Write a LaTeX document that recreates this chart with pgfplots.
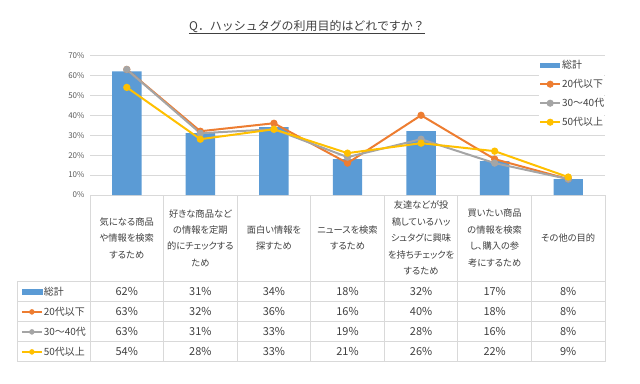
\documentclass[border=0pt]{standalone}
\usepackage{fontspec}
\setmainfont{Noto Sans CJK JP}
\newfontfamily\pfont{Noto Sans CJK JP}[RawFeature=+palt]
\usepackage{pgfplots}
\usepackage{pgfplotstable}
\pgfplotsset{compat=1.18}
\definecolor{barblue}{HTML}{5B9BD5}
\definecolor{lorange}{HTML}{ED7D31}
\definecolor{lgray}{HTML}{A5A5A5}
\definecolor{lyellow}{HTML}{FFC000}
\definecolor{gridgray}{HTML}{D9D9D9}
\definecolor{textgray}{HTML}{404040}
\definecolor{tickgray}{HTML}{595959}

\pgfplotstableread{
x total u20 a3040 o50
0 62 63 63 54
1 31 32 31 28
2 34 36 33 33
3 18 16 19 21
4 32 40 28 26
5 17 18 16 22
6 8 8 8 9
}\datatable

\pgfplotsset{
  barlegend/.style={legend image code/.code={\fill[barblue] (0bp,-2.5bp) rectangle (20bp,2.5bp);}},
  linelegend/.style={legend image code/.code={%
     \draw[line width=2bp,#1] (0bp,0bp) -- (20bp,0bp);
     \fill[#1] (10bp,0bp) circle (2.5bp);}},
  agline/.style={line width=2bp, color=#1, mark=*, mark size=2.6bp,
     mark options={solid, fill=#1, draw=#1}, linelegend=#1},
}

\begin{document}
\begin{tikzpicture}[x=1bp,y=1bp]

% title
\node[inner sep=0pt, font=\fontsize{12}{14}\selectfont, text=textgray] (t) at (307,356.3) {Q．ハッシュタグの利用目的はどれですか？};
\draw[textgray, line width=0.8bp] ([yshift=-2.8bp]t.base west) -- ([yshift=-2.8bp]t.base east);

% table grid
\begin{scope}[gridgray, line width=0.75bp]
\foreach \yy in {101.3, 81.3, 61.3, 41.3, 21.3} \draw (17.3,\yy) -- (605,\yy);
\draw (17.3,101.3) -- (17.3,21.3);
\foreach \i in {0,...,7} \draw ({90+73.5714*\i},188) -- ({90+73.5714*\i},21.3);
\end{scope}

% table values
\foreach \col/\yy in {total/91.3, u20/71.3, a3040/51.3, o50/31.3} {
  \foreach \i in {0,...,6} {
    \pgfplotstablegetelem{\i}{\col}\of\datatable
    \node[font=\fontsize{11}{12}\selectfont, text=textgray] at ({90+73.5714*(\i+0.5)}, \yy) {\pgfplotsretval\%};
  }
}

\begin{axis}[
  at={(90bp,188bp)}, anchor=south west, scale only axis,
  width=515bp, height=139.5bp,
  xmin=-0.5, xmax=6.5, ymin=0, ymax=70,
  clip=false,
  ytick={0,10,...,70},
  yticklabel={\pgfmathprintnumber{\tick}\%},
  /pgf/number format/assume math mode=true,
  ymajorgrids, grid style={draw=gridgray, line width=0.75bp},
  axis line style={draw=none},
  major tick length=0pt,
  xtick={0,...,6},
  xticklabels={
    {気になる商品\\や情報を検索\\するため},
    {好きな商品など\\の情報を定期\\的にチェックする\\ため},
    {面白い情報を\\探すため},
    {ニュースを検索\\するため},
    {友達などが投\\稿しているハッ\\シュタグに興味\\を持ちチェックを\\するため},
    {買いたい商品\\の情報を検索\\し、購入の参\\考にするため},
    {その他の目的}},
  xticklabel style={align=center, anchor=center, yshift=-43bp, text=textgray,
     font=\pfont\fontsize{9.3}{16.5}\selectfont},
  yticklabel style={font=\fontsize{8}{9}\selectfont, text=tickgray, xshift=-2bp},
  legend style={draw=none, fill=white, at={(0.8718,1.0)}, anchor=north west,
     inner sep=0pt, column sep=1bp, font=\fontsize{10}{12}\selectfont, text=textgray,
     nodes={inner sep=0pt, minimum height=19bp}},
  legend cell align=left,
]
\addplot[ybar, bar width=0.4, bar shift=0pt, fill=barblue, draw=none, barlegend] table[x=x, y=total] {\datatable};
\addlegendentry{総計}
\addplot[agline=lorange] table[x=x, y=u20] {\datatable};
\addlegendentry{20代以下}
\addplot[agline=lgray] table[x=x, y=a3040] {\datatable};
\addlegendentry{30～40代}
\addplot[agline=lyellow] table[x=x, y=o50] {\datatable};
\addlegendentry{50代以上}
\end{axis}

% row labels of the data table, as a legend
\begin{axis}[
  at={(0bp,0bp)}, anchor=south west, scale only axis,
  width=640bp, height=383bp, hide axis,
  xmin=0, xmax=640, ymin=0, ymax=383,
  legend style={draw=none, fill=none, at={(0.03234,0.26449)}, anchor=north west,
     inner sep=0pt, column sep=1bp, font=\fontsize{10}{12}\selectfont, text=textgray,
     nodes={inner sep=0pt, minimum height=20bp}},
  legend cell align=left,
]
\addlegendimage{barlegend}
\addlegendentry{総計}
\addlegendimage{linelegend=lorange}
\addlegendentry{20代以下}
\addlegendimage{linelegend=lgray}
\addlegendentry{30～40代}
\addlegendimage{linelegend=lyellow}
\addlegendentry{50代以上}
\end{axis}
\pgfresetboundingbox
\useasboundingbox (0,0) rectangle (640,383);
\end{tikzpicture}
\end{document}
